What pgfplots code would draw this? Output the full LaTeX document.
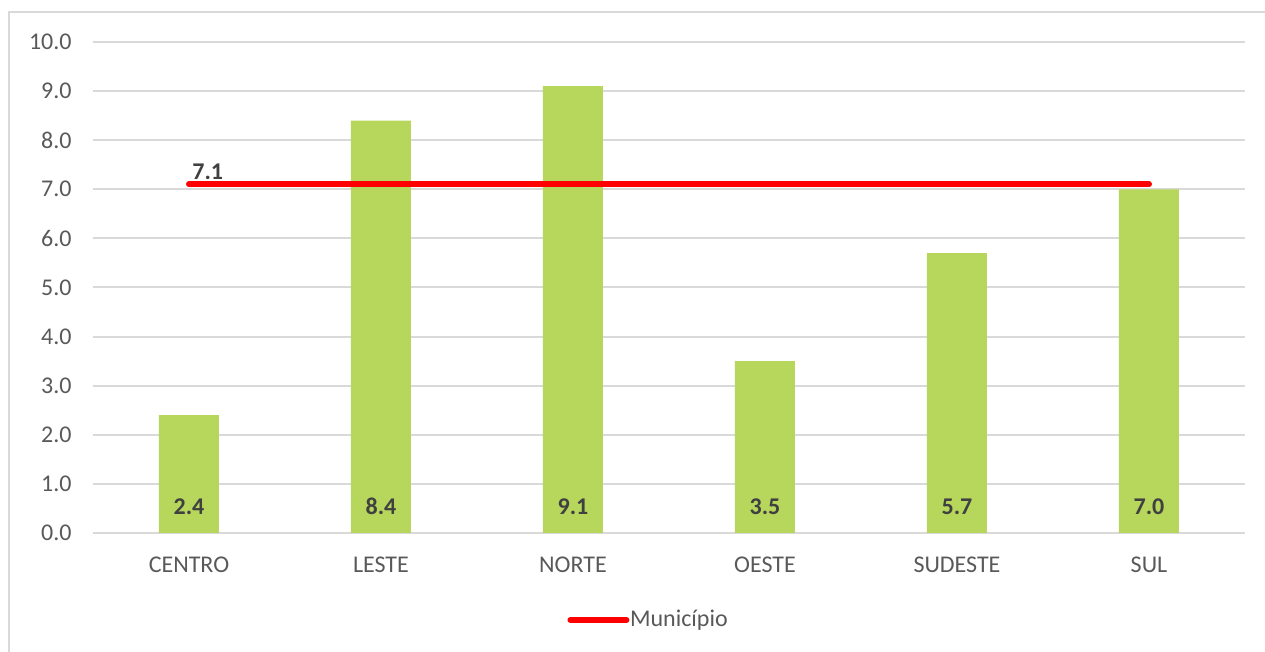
\documentclass[border=0pt]{standalone}
\usepackage{fontspec}
\setmainfont{Carlito}
\usepackage{pgfplots}
\pgfplotsset{compat=1.18}

\definecolor{barGreen}{HTML}{B7D65C}
\definecolor{gridGray}{HTML}{D9D9D9}
\definecolor{txtGray}{HTML}{595959}
\definecolor{lblDark}{HTML}{404040}

\begin{document}
\begin{tikzpicture}
\path[use as bounding box] (-46.5pt,-59.5pt) rectangle (586pt,266.5pt);
\draw[gridGray, line width=0.8pt] (-42pt,-60pt) -- (-42pt,260.5pt) -- (587pt,260.5pt);
\begin{axis}[
    at={(0pt,0pt)}, anchor=south west,
    scale only axis,
    width=576pt, height=245.5pt,
    xmin=-0.5, xmax=5.5,
    ymin=0, ymax=10,
    xtick={0,1,2,3,4,5},
    xticklabels={CENTRO,LESTE,NORTE,OESTE,SUDESTE,SUL},
    ytick={0,1,...,10},
    major tick length=0pt,
    axis line style={draw=none},
    ymajorgrids,
    grid style={gridGray, line width=1pt},
    font=\fontsize{12pt}{14pt}\selectfont,
    tick label style={text=txtGray},
    yticklabel style={anchor=east, inner sep=0pt, xshift=-10.5pt},
    xticklabel style={anchor=base, inner sep=0pt, yshift=-19.9pt},
    /pgf/number format/.cd, fixed, fixed zerofill, precision=1, assume math mode=true,
    /pgfplots/.cd,
    legend style={at={(0.4115,-0.1772)}, anchor=west, draw=none, fill=none,
        inner sep=0pt, font=\fontsize{12pt}{14pt}\selectfont\color{txtGray},
        nodes={inner sep=0.3pt}},
    legend image code/.code={\draw[#1, line cap=round] (0pt,0pt) -- (28pt,0pt);},
]
\addplot[ybar, bar width=30pt, fill=barGreen, draw=none, forget plot]
    coordinates {(0,2.4) (1,8.4) (2,9.1) (3,3.5) (4,5.7) (5,7.0)};
\addplot[draw=none, mark=none, forget plot,
    nodes near coords, point meta=explicit symbolic,
    every node near coord/.append style={anchor=base, inner sep=0pt, yshift=0pt,
        font=\fontsize{12pt}{14pt}\selectfont\bfseries, text=lblDark}]
    coordinates {(0,0.375)[2.4] (1,0.375)[8.4] (2,0.375)[9.1] (3,0.375)[3.5] (4,0.375)[5.7] (5,0.375)[7.0]};
\addplot[red, line width=3pt, line cap=round, mark=none]
    coordinates {(0,7.1) (5,7.1)};
\addlegendentry{Município}
\node[anchor=base west, inner sep=0pt, text=lblDark,
    font=\fontsize{12pt}{14pt}\selectfont\bfseries] at (axis cs:0,7.1) [xshift=1.5pt, yshift=2.2pt] {7.1};
\end{axis}
\end{tikzpicture}
\end{document}
